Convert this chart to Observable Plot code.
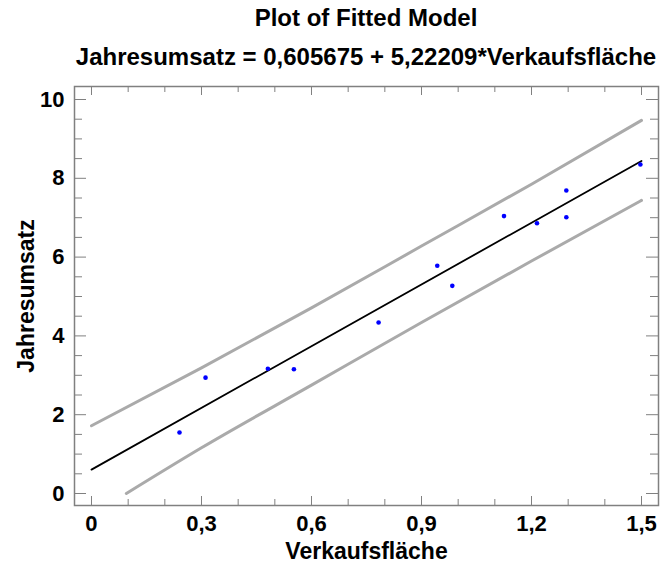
<!DOCTYPE html>
<html>
<head>
<meta charset="utf-8">
<script src="https://cdn.jsdelivr.net/npm/d3@7"></script>
<script src="https://cdn.jsdelivr.net/npm/@observablehq/plot@0.6"></script>
<style>
  html, body { margin: 0; padding: 0; background: #fff; }
  #wrap { position: relative; width: 662px; height: 565px; font-family: "Liberation Sans", Arial, sans-serif; }
  #head { position: relative; width: 662px; height: 80px; }
  .ttl { position: absolute; left: 74px; width: 584px; text-align: center; font-weight: bold; font-size: 24px; line-height: 24px; white-space: nowrap; color: #000; }
  #chart svg { display: block; }
</style>
</head>
<body>
<div id="wrap">
  <div id="head">
    <div class="ttl" style="top:6px">Plot of Fitted Model</div>
    <div class="ttl" style="top:45px">Jahresumsatz = 0,605675 + 5,22209*Verkaufsfläche</div>
  </div>
  <div id="chart"></div>
</div>
<script>
// Observed data (Verkaufsfläche, Jahresumsatz)
const verkaufsflaeche = [0.24, 0.311, 0.481, 0.552, 0.783, 0.943, 0.984, 1.125, 1.215, 1.295, 1.295, 1.497];
const jahresumsatz    = [1.55, 2.94, 3.165, 3.155, 4.34, 5.78, 5.27, 7.04, 6.86, 7.69, 7.01, 8.35];

// Fitted line endpoints
const fitX = [0, 1.5];
const fitY = [0.6057, 8.439];

// Prediction limits
const upperX = [0, 0.3, 0.6, 0.9, 1.2, 1.5];
const upperY = [1.72, 3.19, 4.71, 6.28, 7.85, 9.47];
const lowerX = [0.095, 0.3, 0.6, 0.9, 1.2, 1.5];
const lowerY = [0.0, 1.16, 2.75, 4.34, 5.90, 7.44];

// Ticks
const xMajor = [0, 0.3, 0.6, 0.9, 1.2, 1.5];
const xTickLabels = ["0", "0,3", "0,6", "0,9", "1,2", "1,5"];
const xMinor = [0.1, 0.2, 0.4, 0.5, 0.7, 0.8, 1.0, 1.1, 1.3, 1.4];
const yMajor = [0, 2, 4, 6, 8, 10];
const yTickLabels = ["0", "2", "4", "6", "8", "10"];
const yMinor = [0.5, 1, 1.5, 2.5, 3, 3.5, 4.5, 5, 5.5, 6.5, 7, 7.5, 8.5, 9, 9.5];

const points = verkaufsflaeche.map((x, i) => ({x, y: jahresumsatz[i]}));
const fit = fitX.map((x, i) => ({x, y: fitY[i]}));
const upper = upperX.map((x, i) => ({x, y: upperY[i]}));
const lower = lowerX.map((x, i) => ({x, y: lowerY[i]}));
const xt = xMajor.map((v, i) => ({v, t: xTickLabels[i]}));
const yt = yMajor.map((v, i) => ({v, t: yTickLabels[i]}));

const W = 662, H = 485;
const mL = 74, mR = 4, mT = 6, mB = 60;
const FW = W - mL - mR, FH = H - mT - mB;
const frameCol = "#808080";

const plot = Plot.plot({
  width: W, height: H,
  marginLeft: mL, marginRight: mR, marginTop: mT, marginBottom: mB,
  style: {fontFamily: '"Liberation Sans", Arial, sans-serif', fontWeight: "bold", fontSize: "22px", color: "#000", background: "#fff"},
  x: {domain: [-17/366.67, 1.5 + 17/366.67], axis: null},
  y: {domain: [-12/39.4, 10 + 13/39.4], axis: null},
  marks: [
    // ticks, inward, all four sides
    Plot.tickX(xMajor, {x: d => d, insetTop: FH - 9, stroke: frameCol}),
    Plot.tickX(xMinor, {x: d => d, insetTop: FH - 6, stroke: frameCol}),
    Plot.tickX(xMajor, {x: d => d, insetBottom: FH - 9, stroke: frameCol}),
    Plot.tickX(xMinor, {x: d => d, insetBottom: FH - 6, stroke: frameCol}),
    Plot.tickY(yMajor, {y: d => d, insetRight: FW - 12, stroke: frameCol}),
    Plot.tickY(yMinor, {y: d => d, insetRight: FW - 8, stroke: frameCol}),
    Plot.tickY(yMajor, {y: d => d, insetLeft: FW - 12, stroke: frameCol}),
    Plot.tickY(yMinor, {y: d => d, insetLeft: FW - 8, stroke: frameCol}),
    Plot.frame({stroke: frameCol, strokeWidth: 1.5}),
    // prediction limits
    Plot.line(upper, {x: "x", y: "y", stroke: "#aaaaaa", strokeWidth: 3, curve: "monotone-x"}),
    Plot.line(lower, {x: "x", y: "y", stroke: "#aaaaaa", strokeWidth: 3, curve: "monotone-x"}),
    // fitted line
    Plot.line(fit, {x: "x", y: "y", stroke: "#000", strokeWidth: 1.8}),
    // observations
    Plot.dot(points, {x: "x", y: "y", r: 2.3, fill: "#0000ff", stroke: "none"}),
    // tick labels
    Plot.text(xt, {x: "v", text: "t", frameAnchor: "bottom", dy: 18, lineAnchor: "middle", fill: "#000"}),
    Plot.text(yt, {y: "v", text: "t", frameAnchor: "left", dx: -10, textAnchor: "end", lineAnchor: "middle", fill: "#000"}),
    // axis titles
    Plot.text(["Verkaufsfläche"], {frameAnchor: "bottom", dy: 46, fontSize: 23, lineAnchor: "middle", textAnchor: "middle", fill: "#000"}),
    Plot.text(["Jahresumsatz"], {frameAnchor: "left", dx: -48, rotate: -90, fontSize: 23, lineAnchor: "middle", textAnchor: "middle", fill: "#000"})
  ]
});
document.getElementById("chart").appendChild(plot);
</script>
</body>
</html>
